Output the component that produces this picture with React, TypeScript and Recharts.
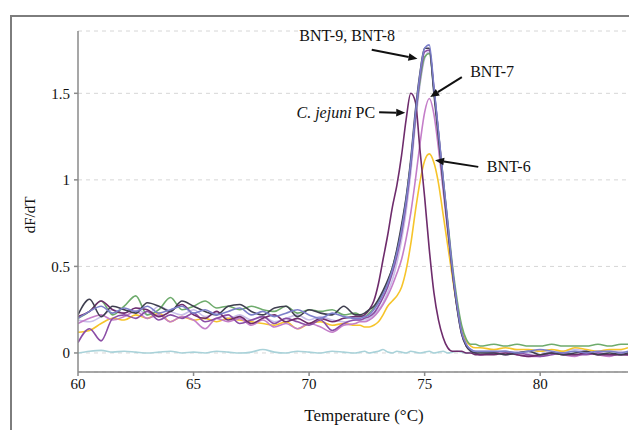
import React from 'react';
import {
  CartesianGrid,
  Label,
  Line,
  LineChart,
  ReferenceDot,
  ReferenceLine,
  XAxis,
  YAxis,
} from 'recharts';

// temperature samples (°C): coarse on the baselines, finer through the melt peak
const temps = [
  60, 60.5, 61, 61.5, 62, 62.5, 63, 63.5, 64, 64.5, 65, 65.5, 66, 66.5, 67, 67.5, 68, 68.5, 69, 69.5, 70, 70.5, 71, 71.5, 72,
  72.2, 72.4, 72.6, 72.8, 73, 73.2, 73.4, 73.6, 73.8, 74, 74.2, 74.4, 74.6, 74.8, 75, 75.2, 75.4, 75.6, 75.8, 76, 76.2, 76.4, 76.6, 76.8, 77, 77.2, 77.4,
  78, 78.5, 79, 79.5, 80, 80.5, 81, 81.5, 82, 82.5, 83, 83.5, 83.8,
];

const ntc = [
  0.0, 0.01, 0.015, 0.005, 0.01, 0.005, 0.0, 0.005, 0.01, 0.0, 0.005, 0.0, 0.01, 0.005, 0.0, 0.005, 0.02, 0.005, 0.0, 0.01, 0.005, 0.0, 0.01, 0.005, 0.0,
  0.005, 0.01, 0.0, 0.005, 0.01, 0.02, 0.005, 0.0, 0.01, 0.005, 0.0, 0.01, 0.005, 0.0, 0.005, 0.01, 0.0, 0.005, 0.01, 0.0, 0.005, 0.01, 0.005, 0.0, 0.005, 0.01, 0.005,
  0.005, 0.01, 0.0, 0.005, 0.01, 0.0, 0.005, 0.01, 0.005, 0.0, 0.01, 0.005, 0.0,
];

const sampleLavender = [
  0.19, 0.18, 0.21, 0.25, 0.23, 0.26, 0.22, 0.27, 0.24, 0.22, 0.25, 0.21, 0.23, 0.2, 0.22, 0.19, 0.21, 0.18, 0.2, 0.22, 0.19, 0.21, 0.19, 0.18, 0.19,
  0.19, 0.19, 0.2, 0.22, 0.25, 0.29, 0.35, 0.42, 0.52, 0.65, 0.82, 1.04, 1.32, 1.55, 1.7, 1.74, 1.53, 1.27, 1.0, 0.74, 0.48, 0.28, 0.13, 0.05, 0.02, 0.01, 0.01,
  0.01, 0.0, 0.01, 0.0, 0.01, 0.0, 0.01, 0.02, 0.01, 0.0, 0.01, 0.01, 0.0,
];

const bnt6 = [
  0.12, 0.13, 0.17, 0.2, 0.19, 0.22, 0.2, 0.23, 0.18, 0.21, 0.19, 0.2, 0.18, 0.2, 0.19, 0.18, 0.17, 0.16, 0.18, 0.14, 0.17, 0.18, 0.16, 0.17, 0.16,
  0.16, 0.15, 0.15, 0.16, 0.18, 0.22, 0.27, 0.3, 0.33, 0.38, 0.48, 0.63, 0.82, 0.99, 1.11, 1.15, 1.1, 0.98, 0.8, 0.62, 0.44, 0.27, 0.14, 0.07, 0.04, 0.03, 0.03,
  0.02, 0.03, 0.02, 0.02, 0.01, 0.02, 0.01, 0.03, 0.02, 0.01, 0.02, 0.02, 0.03,
];

const sampleGreen = [
  0.2, 0.24, 0.3, 0.22, 0.27, 0.33, 0.22, 0.25, 0.32, 0.25, 0.27, 0.3, 0.26, 0.27, 0.25, 0.27, 0.25, 0.24, 0.27, 0.23, 0.25, 0.24, 0.25, 0.22, 0.23,
  0.22, 0.21, 0.23, 0.26, 0.3, 0.35, 0.41, 0.49, 0.59, 0.72, 0.89, 1.1, 1.36, 1.57, 1.71, 1.73, 1.52, 1.27, 1.01, 0.76, 0.51, 0.31, 0.16, 0.08, 0.05, 0.05, 0.04,
  0.05, 0.04, 0.05, 0.04, 0.04, 0.05, 0.04, 0.04, 0.04, 0.05, 0.04, 0.05, 0.05,
];

const bnt7 = [
  0.17, 0.2, 0.22, 0.19, 0.21, 0.24, 0.2, 0.22, 0.18, 0.21, 0.19, 0.14, 0.2, 0.18, 0.2, 0.16, 0.19, 0.15, 0.17, 0.14, 0.17, 0.15, 0.12, 0.16, 0.17,
  0.18, 0.18, 0.19, 0.21, 0.24, 0.28, 0.33, 0.39, 0.46, 0.54, 0.66, 0.81, 1.0, 1.21, 1.39, 1.47, 1.38, 1.18, 0.94, 0.7, 0.47, 0.27, 0.12, 0.05, 0.01, 0.0, -0.01,
  0.0, 0.01, -0.01, -0.02, -0.02, 0.0, -0.01, -0.02, 0.0, -0.01, -0.02, 0.0, -0.01,
];

const samplePurple = [
  0.06, 0.14, 0.07, 0.2, 0.22, 0.2, 0.24, 0.19, 0.22, 0.2, 0.23, 0.18, 0.2, 0.22, 0.17, 0.19, 0.21, 0.17, 0.2, 0.18, 0.16, 0.19, 0.13, 0.17, 0.19,
  0.19, 0.2, 0.21, 0.23, 0.27, 0.32, 0.38, 0.46, 0.56, 0.69, 0.86, 1.08, 1.36, 1.59, 1.74, 1.75, 1.53, 1.27, 1.0, 0.74, 0.48, 0.27, 0.11, 0.04, 0.01, 0.0, -0.01,
  0.0, -0.01, 0.0, -0.01, -0.02, -0.01, 0.0, -0.01, -0.01, 0.0, -0.01, -0.01, -0.01,
];

const cjejuni = [
  0.21, 0.24, 0.3, 0.25, 0.23, 0.26, 0.25, 0.21, 0.24, 0.28, 0.22, 0.2, 0.24, 0.19, 0.21, 0.17, 0.2, 0.22, 0.18, 0.2, 0.17, 0.2, 0.18, 0.2, 0.21,
  0.21, 0.22, 0.25, 0.3, 0.4, 0.54, 0.68, 0.84, 0.97, 1.14, 1.35, 1.5, 1.45, 1.17, 0.9, 0.6, 0.35, 0.19, 0.09, 0.03, 0.01, 0.01, 0.01, 0.0, 0.0, -0.01, -0.01,
  -0.01, 0.0, -0.01, -0.02, -0.01, 0.0, -0.01, -0.01, 0.0, -0.01, -0.01, -0.01, -0.01,
];

const bnt9 = [
  0.22, 0.31, 0.21, 0.27, 0.25, 0.23, 0.29, 0.27, 0.24, 0.3, 0.27, 0.24, 0.22, 0.27, 0.28, 0.24, 0.22, 0.26, 0.27, 0.21, 0.25, 0.23, 0.22, 0.27, 0.22,
  0.22, 0.23, 0.25, 0.27, 0.31, 0.36, 0.42, 0.49, 0.6, 0.74, 0.9, 1.12, 1.4, 1.62, 1.76, 1.76, 1.5, 1.24, 0.98, 0.72, 0.47, 0.26, 0.11, 0.04, 0.01, 0.0, 0.0,
  0.0, -0.01, 0.0, 0.01, -0.01, 0.0, -0.01, 0.0, 0.01, -0.01, 0.0, -0.01, 0.0,
];

const bnt8 = [
  0.2, 0.24, 0.27, 0.23, 0.26, 0.24, 0.27, 0.23, 0.25, 0.27, 0.23, 0.25, 0.22, 0.24, 0.26, 0.22, 0.24, 0.21, 0.23, 0.25, 0.22, 0.2, 0.23, 0.21, 0.2,
  0.2, 0.21, 0.22, 0.25, 0.29, 0.34, 0.4, 0.48, 0.58, 0.71, 0.88, 1.1, 1.38, 1.61, 1.76, 1.78, 1.54, 1.28, 1.01, 0.75, 0.49, 0.28, 0.12, 0.05, 0.02, 0.01, 0.01,
  0.01, 0.01, 0.0, 0.01, 0.02, 0.01, 0.0, 0.01, 0.0, 0.01, 0.01, 0.0, 0.01,
];

const xTicks = [60, 65, 70, 75, 80];
const yTicks = [0, 0.5, 1, 1.5];

const data = temps.map((t, i) => ({
  t,
  ntc: ntc[i],
  sampleLavender: sampleLavender[i],
  bnt6: bnt6[i],
  sampleGreen: sampleGreen[i],
  bnt7: bnt7[i],
  samplePurple: samplePurple[i],
  cjejuni: cjejuni[i],
  bnt9: bnt9[i],
  bnt8: bnt8[i],
}));

// drawing order, bottom to top
const series = [
  { key: 'ntc', color: '#a9d2d9' },
  { key: 'sampleLavender', color: '#c9bfe9' },
  { key: 'bnt6', color: '#f6c42a' },
  { key: 'sampleGreen', color: '#6eab6c' },
  { key: 'bnt7', color: '#c47ec9' },
  { key: 'samplePurple', color: '#8b4ea6' },
  { key: 'cjejuni', color: '#6e2c6c' },
  { key: 'bnt9', color: '#3f3f50' },
  { key: 'bnt8', color: '#7c7fca' },
];

// annotation text + arrows, in data coordinates
const notes = [
  { id: 'b98', text: 'BNT-9, BNT-8', x: 73.72, y: 1.835, anchor: 'end' },
  { id: 'b7', text: 'BNT-7', x: 76.97, y: 1.625, anchor: 'start' },
  { id: 'cj', text: 'PC', italic: 'C. jejuni', x: 72.86, y: 1.392, anchor: 'end' },
  { id: 'b6', text: 'BNT-6', x: 77.69, y: 1.075, anchor: 'start' },
];
const arrows = [
  { id: 'a98', from: [72.71, 1.752], to: [74.69, 1.7] },
  { id: 'a7', from: [76.61, 1.594], to: [75.24, 1.479] },
  { id: 'acj', from: [73.03, 1.391], to: [74.16, 1.387] },
  { id: 'a6', from: [77.32, 1.075], to: [75.45, 1.114] },
];

const FONT = '"Liberation Serif", "Times New Roman", serif';

const Arrow = (props: any) => {
  const { x1, y1, x2, y2 } = props;
  const ang = Math.atan2(y2 - y1, x2 - x1);
  const len = 9;
  const w = 3.8;
  const bx = x2 - len * Math.cos(ang);
  const by = y2 - len * Math.sin(ang);
  const px = -Math.sin(ang) * w;
  const py = Math.cos(ang) * w;
  return (
    <g>
      <line x1={x1} y1={y1} x2={bx} y2={by} stroke="#111" strokeWidth={2} />
      <polygon points={`${x2},${y2} ${bx + px},${by + py} ${bx - px},${by - py}`} fill="#111" />
    </g>
  );
};

const noteShape = (note: any) => (p: any) => (
  <text
    x={p.cx}
    y={p.cy}
    textAnchor={note.anchor}
    dominantBaseline="central"
    style={{ fontFamily: FONT, fontSize: 16 }}
    fill="#111"
  >
    {note.italic ? <tspan fontStyle="italic">{note.italic}</tspan> : null}
    {note.italic ? ' ' + note.text : note.text}
  </text>
);

const XTitle = () => (
  <text x={356} y={407} textAnchor="middle" dominantBaseline="central" style={{ fontFamily: FONT, fontSize: 17 }} fill="#111">
    Temperature (°C)
  </text>
);

const YTitle = () => (
  <text
    x={22}
    y={207}
    transform="rotate(-90 22 207)"
    textAnchor="middle"
    dominantBaseline="central"
    style={{ fontFamily: FONT, fontSize: 15 }}
    fill="#111"
  >
    dF/dT
  </text>
);

export default function App() {
  return (
    <div
      style={{
        position: 'relative',
        width: 629,
        height: 422,
        overflow: 'hidden',
        background: '#fff',
        fontFamily: FONT,
      }}
    >
      <div
        style={{
          position: 'absolute',
          left: 2,
          top: 7,
          width: 700,
          height: 500,
          borderLeft: '2px solid #7d7d7d',
          borderTop: '2px solid #7d7d7d',
        }}
      />
      <LineChart
        width={629}
        height={422}
        data={data}
        margin={{ top: 23, right: 9, left: 0, bottom: 28 }}
        style={{ position: 'absolute', left: 0, top: 0, fontFamily: FONT }}
      >
        <CartesianGrid horizontal vertical={false} stroke="#d6d6d6" strokeDasharray="4 4" />
        <XAxis
          dataKey="t"
          type="number"
          domain={[60, 83.8]}
          ticks={xTicks}
          allowDataOverflow
          height={30}
          tickSize={4}
          tickMargin={2}
          stroke="#8a8a8a"
          strokeWidth={1.5}
          tick={{ fill: '#111', fontSize: 15, style: { fontFamily: FONT } }}
          label={<Label content={XTitle} />}
        />
        <YAxis
          type="number"
          domain={[-0.11, 1.86]}
          ticks={yTicks}
          allowDataOverflow
          width={70}
          tickSize={4}
          tickMargin={4}
          stroke="#8a8a8a"
          strokeWidth={1.5}
          tick={{ fill: '#111', fontSize: 15, style: { fontFamily: FONT } }}
          label={<Label content={YTitle} />}
        />
        {series.map((s) => (
          <Line
            key={s.key}
            dataKey={s.key}
            type="monotone"
            stroke={s.color}
            strokeWidth={1.6}
            dot={false}
            activeDot={false}
            isAnimationActive={false}
          />
        ))}
        {arrows.map((a) => (
          <ReferenceLine
            key={a.id}
            segment={[
              { x: a.from[0], y: a.from[1] },
              { x: a.to[0], y: a.to[1] },
            ]}
            shape={Arrow}
          />
        ))}
        {notes.map((n) => (
          <ReferenceDot key={n.id} x={n.x} y={n.y} r={0} shape={noteShape(n)} />
        ))}
      </LineChart>
    </div>
  );
}
